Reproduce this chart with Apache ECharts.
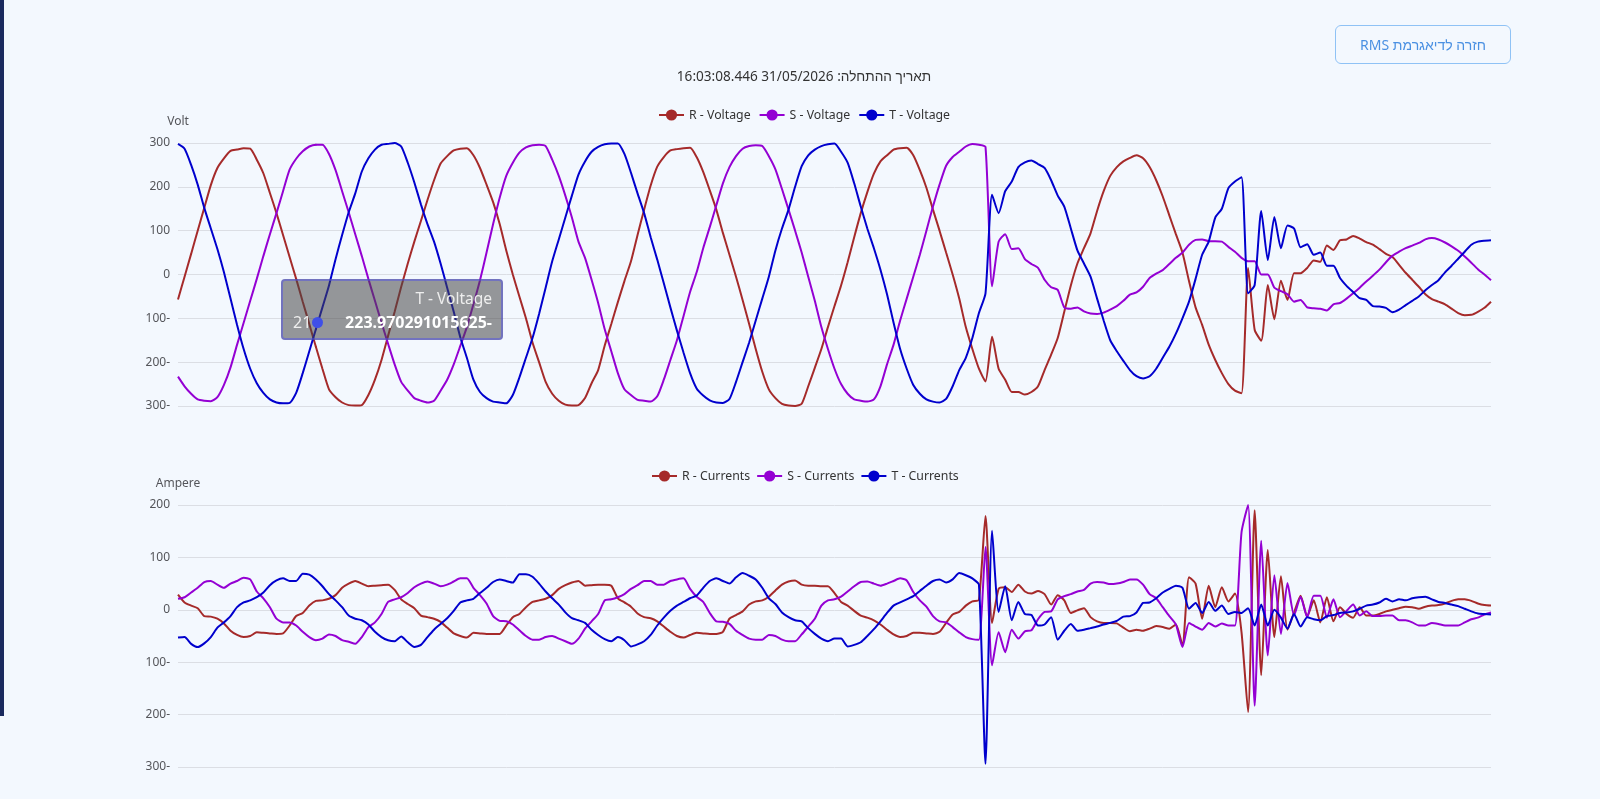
<!DOCTYPE html>
<html lang="he">
<head>
<meta charset="utf-8">
<title>Waveform</title>
<script src="https://cdn.jsdelivr.net/npm/echarts@6/dist/echarts.min.js"></script>
<style>
  html, body { margin: 0; padding: 0; width: 1600px; height: 799px; overflow: hidden; background: #f3f8fe; font-family: "Noto Sans", "Liberation Sans", sans-serif; }
  #sidebar { position: absolute; left: 0; top: 0; width: 4px; height: 716px; background: #1a2a5e; }
  #startDate { position: absolute; left: 0; width: 1608px; top: 65px; text-align: center; font-size: 13.6px; line-height: 22px; color: #333; }
  #backButton { position: absolute; left: 1335px; top: 25px; width: 176px; height: 39px; box-sizing: border-box; padding-bottom: 2px; background: transparent; border: 1px solid #8fc2f5; border-radius: 6px; color: #4a90e2; font: 14px "Noto Sans", "Liberation Sans", sans-serif; }
  #chart { position: absolute; left: 0; top: 0; width: 1600px; height: 799px; }
</style>
</head>
<body>
<div id="chart"></div>
<div id="sidebar"></div>
<div id="startDate" dir="rtl">תאריך ההתחלה: 31/05/2026 16:03:08.446</div>
<button id="backButton" dir="rtl">חזרה לדיאגרמת RMS</button>
<script>
// Values, one sample per index
const voltageR = [
  -57,-5,47,100,152,204,243,265,282,285,
  288,287,262,231,186,140,90,40,-10,-62,
  -113,-165,-215,-262,-280,-292,-298,-299,-298,-275,
  -240,-195,-140,-85,-28,25,75,122,170,215,
  253,270,283,287,288,272,243,205,165,115,
  55,0,-50,-100,-155,-200,-245,-272,-288,-297,
  -299,-298,-282,-248,-218,-162,-113,-63,-15,30,
  90,148,203,246,268,283,286,288,289,268,
  234,192,148,95,45,-5,-58,-113,-170,-222,
  -262,-282,-295,-299,-300,-295,-255,-213,-170,-120,
  -72,-25,28,85,140,188,230,258,272,285,
  288,289,272,238,198,148,100,50,0,-55,
  -120,-170,-215,-244,-142,-215,-240,-268,-268,-274,
  -268,-255,-218,-183,-145,-85,-25,25,60,94,
  145,190,225,245,258,266,272,265,245,215,
  178,135,92,50,-15,-75,-115,-160,-195,-225,
  -250,-265,-271,15,-126,-151,-24,-102,-14,-58,
  3,3,15,32,29,66,56,78,80,88,
  82,74,68,58,47,40,22,4,-12,-28,
  -45,-56,-62,-68,-78,-88,-93,-92,-85,-76,
  -62];
const voltageS = [
  -233,-255,-272,-285,-288,-289,-280,-252,-212,-160,
  -110,-60,-10,42,92,140,190,239,264,281,
  292,296,296,275,238,190,142,92,42,-10,
  -60,-110,-158,-205,-245,-265,-282,-288,-292,-288,
  -265,-240,-205,-163,-120,-68,-13,50,115,175,
  225,255,278,290,295,296,293,262,225,180,
  130,75,38,-12,-65,-125,-175,-225,-262,-275,
  -286,-288,-290,-278,-240,-195,-150,-95,-40,5,
  60,108,158,208,245,270,287,293,295,293,
  270,240,195,148,100,50,-5,-60,-120,-170,
  -215,-250,-272,-285,-288,-290,-285,-255,-205,-160,
  -105,-55,-5,45,100,155,205,248,268,280,
  292,298,296,291,-27,75,92,58,60,35,
  24,15,-12,-29,-35,-75,-78,-75,-84,-89,
  -90,-87,-80,-72,-60,-46,-41,-28,-8,2,
  10,24,38,50,68,79,80,76,76,75,
  63,52,38,30,30,0,0,-30,-38,-45,
  -62,-58,-75,-77,-78,-82,-68,-65,-55,-43,
  -30,-16,-3,11,28,43,52,60,66,72,
  80,83,80,73,64,54,41,27,12,0,
  -13];
const voltageT = [
  298,287,250,205,152,105,58,5,-55,-115,
  -170,-215,-248,-270,-285,-292,-294,-293,-270,-225,
  -175,-125,-75,-25,35,90,142,185,235,265,
  285,296,298,300,292,255,210,160,115,75,
  25,-30,-85,-143,-190,-240,-268,-282,-290,-292,
  -294,-275,-235,-190,-145,-90,-30,30,80,130,
  180,228,258,280,291,297,299,299,275,232,
  185,140,85,34,-20,-75,-128,-178,-225,-260,
  -276,-287,-292,-293,-284,-245,-200,-155,-105,-55,
  -5,55,105,148,200,247,272,285,293,297,
  299,280,255,208,155,105,60,11,-45,-110,
  -170,-215,-252,-272,-285,-290,-292,-284,-255,-218,
  -190,-145,-88,-43,182,140,190,212,245,256,
  260,252,243,215,180,155,105,55,25,-5,
  -55,-105,-150,-175,-197,-218,-232,-237,-232,-215,
  -190,-165,-135,-100,-62,-10,45,75,130,150,
  197,212,222,-43,-24,145,33,131,60,112,
  105,62,69,45,50,20,20,-8,-26,-40,
  -54,-58,-72,-73,-76,-86,-80,-70,-60,-50,
  -36,-24,-13,5,20,36,52,68,75,77,
  78];
const currentR = [
  29,14,8,3,-12,-13,-17,-26,-40,-48,
  -52,-50,-43,-44,-45,-46,-45,-30,-12,-6,
  8,17,18,21,28,42,50,55,50,45,
  46,47,48,38,20,11,3,-11,-14,-17,
  -23,-34,-45,-50,-53,-44,-45,-46,-46,-46,
  -30,-14,-8,5,15,18,21,28,40,47,
  52,55,46,47,48,48,46,22,14,6,
  -7,-14,-16,-22,-32,-42,-50,-53,-48,-44,
  -45,-46,-46,-42,-17,-10,-3,10,16,18,
  25,37,48,54,56,48,46,46,45,45,
  32,15,8,-2,-11,-15,-20,-28,-38,-47,
  -52,-50,-44,-44,-45,-46,-42,-25,-9,-4,
  8,16,19,179,-25,40,43,34,48,35,
  31,36,30,10,28,18,-6,-1,3,-14,
  -22,-25,-25,-26,-34,-41,-38,-40,-36,-31,
  -33,-36,-28,-68,62,50,-17,46,5,43,
  16,31,-43,-195,190,-125,114,-52,64,-38,
  -5,27,-13,18,-24,24,-22,5,-8,-15,
  5,-11,-11,-8,-3,0,3,6,5,2,
  6,8,9,12,17,20,20,17,12,9,
  8];
const currentS = [
  21,24,33,42,53,55,48,42,50,55,
  61,58,35,22,5,-17,-24,-24,-30,-42,
  -52,-58,-55,-47,-50,-58,-61,-65,-52,-33,
  -24,-8,15,20,24,32,43,50,54,50,
  45,48,54,60,60,42,28,12,-12,-21,
  -22,-28,-39,-50,-57,-57,-52,-50,-55,-60,
  -65,-55,-36,-22,-8,18,20,24,30,40,
  47,55,55,48,48,55,58,60,40,25,
  15,-6,-22,-23,-27,-40,-48,-55,-57,-57,
  -48,-50,-57,-60,-60,-47,-32,-17,8,18,
  20,25,35,45,53,54,50,46,50,55,
  60,56,34,18,6,-12,-22,-24,-33,-43,
  -52,-56,-57,120,-106,-43,-81,-38,-55,-41,
  -39,-18,-4,-3,20,26,30,35,38,50,
  53,52,49,50,53,58,58,48,30,22,
  5,-12,-28,-71,-25,-32,-38,-25,-32,-26,
  -30,-30,148,200,-183,132,-87,66,-46,51,
  -11,25,-14,27,27,-15,20,-14,-2,10,
  -11,-3,-12,-12,-11,-11,-20,-20,-24,-30,
  -30,-25,-27,-30,-30,-30,-24,-18,-15,-9,
  -5];
const currentT = [
  -53,-52,-65,-71,-64,-52,-34,-24,-12,5,
  14,18,24,33,47,56,60,55,55,69,
  67,58,45,30,18,5,-11,-17,-20,-28,
  -42,-52,-58,-60,-51,-62,-71,-67,-52,-38,
  -27,-16,-2,14,18,21,32,42,53,58,
  55,52,68,68,63,50,35,22,10,-5,
  -16,-20,-25,-38,-48,-56,-60,-52,-58,-70,
  -66,-60,-48,-30,-15,-2,8,15,22,27,
  42,55,60,55,50,62,70,65,58,42,
  22,11,-5,-14,-20,-22,-35,-46,-55,-60,
  -55,-55,-70,-67,-62,-50,-37,-22,-6,8,
  14,20,26,36,46,55,58,52,58,70,
  66,60,48,-294,151,-4,45,-20,15,-8,
  -10,-30,-28,-14,-57,-40,-27,-40,-38,-35,
  -32,-28,-25,-21,-13,-12,-5,13,14,22,
  33,40,46,42,2,13,-6,15,-2,8,
  -8,-4,-6,3,-30,10,-30,0,-15,-36,
  -8,-32,-14,-18,-20,-12,-10,-6,-5,-3,
  2,8,10,14,21,16,20,18,22,24,
  25,20,15,13,10,7,2,-3,-7,-8,
  -9];

const sampleIndex = voltageR.map((v, i) => i);
const voltageNames = ['R - Voltage', 'S - Voltage', 'T - Voltage'];
const currentNames = ['R - Currents', 'S - Currents', 'T - Currents'];
const phaseColors = ['#a52a2a', '#9400d3', '#0000cd'];

// tooltip that is open in the picture
const tipSeries = 2;
const tipIndex = 21;
const tipValue = '223.970291015625-';

// negative ticks are printed with the minus behind the number
function tickLabel(v) {
  return v < 0 ? Math.abs(v) + '-' : String(v);
}

function makeSeries(name, data, color, axis) {
  return {
    name: name,
    type: 'line',
    data: data,
    xAxisIndex: axis,
    yAxisIndex: axis,
    symbol: 'circle',
    symbolSize: 0, // no dots on the line, the legend keeps its circle
    showSymbol: false,
    smooth: 0.2,
    lineStyle: { color: color, width: 2 },
    itemStyle: { color: color },
    emphasis: { disabled: true }
  };
}

function makeYAxis(grid, name, min, max) {
  return {
    type: 'value',
    gridIndex: grid,
    name: name,
    min: min,
    max: max,
    interval: 100,
    axisLabel: { formatter: tickLabel, fontFamily: 'Noto Sans' },
    nameTextStyle: { fontFamily: 'Noto Sans' }
  };
}

const myChart = echarts.init(document.getElementById('chart'));

myChart.setOption({
  animation: false,
  textStyle: { fontFamily: 'Noto Sans' },
  grid: [
    { left: 178, width: 1313, top: 143, height: 263 },
    { left: 178, width: 1313, top: 505, height: 262 }
  ],
  legend: [
    { data: voltageNames, left: 653, top: 104, itemGap: 8, textStyle: { color: '#333', fontSize: 12.3 } },
    { data: currentNames, left: 646, top: 465, itemGap: 6, textStyle: { color: '#333', fontSize: 12.3 } }
  ],
  tooltip: {
    trigger: 'axis',
    axisPointer: { type: 'none' },
    triggerEmphasis: false,
    alwaysShowContent: true,
    transitionDuration: 0,
    position: [281, 279],
    backgroundColor: 'rgba(70,70,70,0.55)',
    borderColor: 'rgba(80,80,230,0.5)',
    borderWidth: 2,
    padding: 0,
    extraCssText: 'width:222px;height:61px;box-sizing:border-box;border-radius:4px;box-shadow:none;',
    textStyle: { color: '#fff' },
    formatter: function (list) {
      const p = list.find(function (item) { return item.seriesIndex === tipSeries; }) || list[0];
      return '<div style="font:15.5px \'Noto Sans\';line-height:24px;padding:5px 9px 0 10px;color:#eee;text-align:right;">' + p.seriesName + '</div>' +
        '<div style="font:16px \'Noto Sans\';line-height:24px;padding:0 9px 0 10px;color:#eee;display:flex;justify-content:space-between;">' +
        '<span>' + p.dataIndex + '<span style="display:inline-block;width:11px;height:11px;border-radius:50%;background:#3f4fe8;margin-left:1px;"></span></span>' +
        '<b style="color:#fff;">' + tipValue + '</b></div>';
    }
  },
  xAxis: [
    { type: 'category', gridIndex: 0, data: sampleIndex, boundaryGap: false, show: false },
    { type: 'category', gridIndex: 1, data: sampleIndex, boundaryGap: false, show: false }
  ],
  yAxis: [
    makeYAxis(0, 'Volt', -300, 300),
    makeYAxis(1, 'Ampere', -300, 200)
  ],
  series: [
    makeSeries(voltageNames[0], voltageR, phaseColors[0], 0),
    makeSeries(voltageNames[1], voltageS, phaseColors[1], 0),
    makeSeries(voltageNames[2], voltageT, phaseColors[2], 0),
    makeSeries(currentNames[0], currentR, phaseColors[0], 1),
    makeSeries(currentNames[1], currentS, phaseColors[1], 1),
    makeSeries(currentNames[2], currentT, phaseColors[2], 1)
  ]
});

myChart.dispatchAction({ type: 'showTip', seriesIndex: tipSeries, dataIndex: tipIndex });
</script>
</body>
</html>
